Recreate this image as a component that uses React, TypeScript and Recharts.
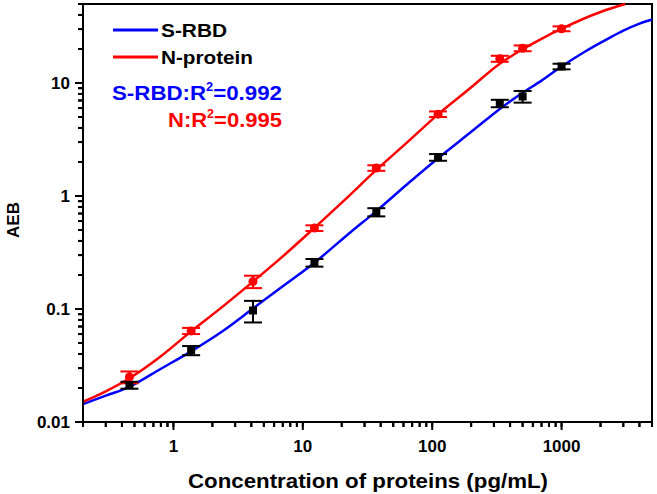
import React from "react";
import { ComposedChart, Line, Scatter, ErrorBar, XAxis, YAxis, Customized } from "recharts";

// measured points (mean ± sd)
const conc = [0.457, 1.37, 4.12, 12.3, 37, 111, 333, 500, 1000];
const sRbdMean = [0.0212, 0.043, 0.097, 0.257, 0.72, 2.2, 6.6, 7.6, 14.0];
const sRbdErr = [0.0015, 0.004, 0.021, 0.02, 0.06, 0.15, 0.5, 0.9, 0.8];
const nMean = [0.025, 0.064, 0.175, 0.52, 1.77, 5.3, 16.4, 20.3, 30.2];
const nErr = [0.003, 0.004, 0.022, 0.03, 0.1, 0.3, 1.0, 1.2, 1.5];

// fitted curves (N curve leaves the frame at the top)
const sFitX = [0.2, 0.3, 0.457, 0.8, 1.37, 2.44, 4.12, 7, 12.3, 23.5, 37, 64, 111, 212, 333, 500, 700, 1000, 1500, 2310, 3000, 4000, 5000];
const sFitY = [0.0144, 0.0171, 0.0205, 0.0296, 0.0422, 0.0645, 0.101, 0.159, 0.257, 0.48, 0.735, 1.27, 2.16, 3.89, 5.9, 8.2, 10.5, 14.0, 18.8, 24.8, 29, 33.5, 36.5];
const nFitX = [0.2, 0.3, 0.457, 0.8, 1.37, 2.4, 4.12, 7, 12.3, 21, 37, 64, 111, 190, 333, 500, 700, 1000, 2000, 3100];
const nFitY = [0.0151, 0.0187, 0.0244, 0.0382, 0.0634, 0.105, 0.1746, 0.292, 0.522, 0.92, 1.7, 2.98, 5.28, 8.7, 14.8, 19.9, 24.6, 30.2, 42.5, 50];

const xTicks = [0.2, 0.3, 0.4, 0.5, 0.6, 0.7, 0.8, 0.9, 1, 2, 3, 4, 5, 6, 7, 8, 9, 10, 20, 30, 40, 50, 60, 70, 80, 90, 100, 200, 300, 400, 500, 600, 700, 800, 900, 1000, 2000, 3000, 4000, 5000];
const yTicks = [0.01, 0.02, 0.03, 0.04, 0.05, 0.06, 0.07, 0.08, 0.09, 0.1, 0.2, 0.3, 0.4, 0.5, 0.6, 0.7, 0.8, 0.9, 1, 2, 3, 4, 5, 6, 7, 8, 9, 10, 20, 30, 40, 50];

const X_DOMAIN = [0.2, 5000];
const Y_DOMAIN = [0.01, 50];

const BLUE = "#0000ff";
const RED = "#ff0000";
const FONT = "'Liberation Sans', Arial, sans-serif";

// plot box (chart 657x494, margins below)
const W = 657, H = 494;
const M = { top: 4, right: 5, left: 0, bottom: 0 };
const Y_W = 83, X_H = 72;
const PL = M.left + Y_W, PR = W - M.right, PT = M.top, PB = H - M.bottom - X_H;

const sPoints = conc.map((x, i) => ({ x, y: sRbdMean[i], err: sRbdErr[i] }));
const nPoints = conc.map((x, i) => ({ x, y: nMean[i], err: nErr[i] }));
const sFit = sFitX.map((x, i) => ({ x, y: sFitY[i] }));
const nFit = nFitX.map((x, i) => ({ x, y: nFitY[i] }));

const isMajor = (v: number) => {
  const l = Math.log10(v);
  return Math.abs(l - Math.round(l)) < 1e-6;
};

const logPos = (v: number, d: number[], a: number, b: number) =>
  a + ((Math.log10(v) - Math.log10(d[0])) / (Math.log10(d[1]) - Math.log10(d[0]))) * (b - a);

// labels only; the longer major marks are drawn with the frame
function XTick(props: any) {
  const { x, y, payload } = props;
  if (!isMajor(payload.value)) return <g />;
  return (
    <text x={x} y={y + 23} textAnchor="middle" fontSize={17} fontWeight="bold" fontFamily={FONT} fill="#000">
      {payload.value}
    </text>
  );
}

function YTick(props: any) {
  const { x, y, payload } = props;
  if (!isMajor(payload.value)) return <g />;
  return (
    <text x={x - 6} y={y} dy="0.36em" textAnchor="end" fontSize={17} fontWeight="bold" fontFamily={FONT} fill="#000">
      {payload.value}
    </text>
  );
}

function Frame() {
  return (
    <g>
      <rect x={PL} y={PT} width={PR - PL} height={PB - PT} stroke="#000" strokeWidth={2} fill="none" />
      {xTicks.map((v) => {
        const px = logPos(v, X_DOMAIN, PL, PR);
        return <line key={`x${v}`} x1={px} x2={px} y1={PB} y2={PB + (isMajor(v) ? 8 : 5)} stroke="#000" strokeWidth={2} />;
      })}
      {yTicks.map((v) => {
        const py = logPos(v, Y_DOMAIN, PB, PT);
        return <line key={`y${v}`} x1={PL} x2={PL - (isMajor(v) ? 8 : 5)} y1={py} y2={py} stroke="#000" strokeWidth={2} />;
      })}
    </g>
  );
}

function Annotations() {
  return (
    <g fontFamily={FONT} fontWeight="bold">
      <Frame />
      <line x1={113} x2={158} y1={30} y2={30} stroke={BLUE} strokeWidth={3} />
      <text x={161} y={37} fontSize={18} textLength={66} lengthAdjust="spacingAndGlyphs">S-RBD</text>
      <line x1={113} x2={158} y1={57} y2={57} stroke={RED} strokeWidth={3} />
      <text x={161} y={64} fontSize={18} textLength={92} lengthAdjust="spacingAndGlyphs">N-protein</text>
      <text x={112} y={100} fontSize={21} fill={BLUE} textLength={170} lengthAdjust="spacingAndGlyphs">
        S-RBD:R<tspan dy={-9} fontSize={12}>2</tspan><tspan dy={9}>=0.992</tspan>
      </text>
      <text x={168} y={127} fontSize={21} fill={RED} textLength={114} lengthAdjust="spacingAndGlyphs">
        N:R<tspan dy={-9} fontSize={12}>2</tspan><tspan dy={9}>=0.995</tspan>
      </text>
      <text x={368} y={488} fontSize={21} textAnchor="middle" textLength={360} lengthAdjust="spacingAndGlyphs">
        Concentration of proteins (pg/mL)
      </text>
      <text x={19} y={220} fontSize={17} textAnchor="middle" transform="rotate(-90 19 220)">AEB</text>
    </g>
  );
}

export default function App() {
  return (
    <div style={{ position: "absolute", left: 0, top: 0 }}>
      <ComposedChart width={W} height={H} margin={M}>
        <XAxis
          dataKey="x"
          type="number"
          scale="log"
          domain={X_DOMAIN}
          ticks={xTicks}
          interval={0}
          tickSize={5}
          tickLine={{ stroke: "#000", strokeWidth: 2 }}
          tick={<XTick />}
          height={X_H}
          axisLine={{ stroke: "#000", strokeWidth: 2 }}
        />
        <YAxis
          dataKey="y"
          type="number"
          scale="log"
          domain={Y_DOMAIN}
          ticks={yTicks}
          interval={0}
          tickSize={5}
          tickLine={{ stroke: "#000", strokeWidth: 2 }}
          tick={<YTick />}
          width={Y_W}
          axisLine={{ stroke: "#000", strokeWidth: 2 }}
        />
        <Line data={sFit} dataKey="y" type="monotone" stroke={BLUE} strokeWidth={2.5} dot={false} isAnimationActive={false} />
        <Line data={nFit} dataKey="y" type="monotone" stroke={RED} strokeWidth={2.5} dot={false} isAnimationActive={false} />
        <Scatter data={nPoints} dataKey="y" fill={RED} shape="circle" isAnimationActive={false}>
          <ErrorBar dataKey="err" direction="y" width={9} stroke={RED} strokeWidth={2} />
        </Scatter>
        <Scatter data={sPoints} dataKey="y" fill="#000" shape="square" isAnimationActive={false}>
          <ErrorBar dataKey="err" direction="y" width={9} stroke="#000" strokeWidth={2} />
        </Scatter>
        <Customized component={<Annotations />} />
      </ComposedChart>
    </div>
  );
}
